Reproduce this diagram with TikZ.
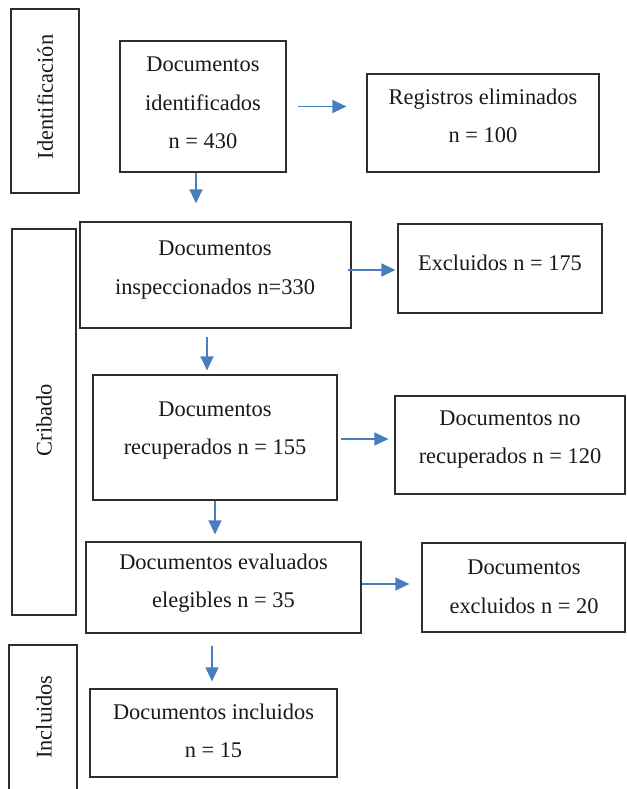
\documentclass[tikz,border=0pt]{standalone}
\usepackage{fontspec}
\setmainfont{Liberation Serif}
\usetikzlibrary{arrows.meta}
\definecolor{arrblue}{RGB}{72,126,190}
\definecolor{boxline}{RGB}{45,45,45}
\definecolor{txtcol}{RGB}{25,25,25}
\begin{document}
\begin{tikzpicture}[x=1pt,y=-1pt,
  boxn/.style={draw=boxline,line width=1.2pt,rectangle,inner sep=0pt},
  txt/.style={align=center,text=txtcol,inner sep=0pt,font=\fontsize{22.4}{38.5}\selectfont},
  side/.style={text=txtcol,inner sep=0pt,rotate=90,font=\fontsize{22.4}{26}\selectfont},
  arr/.style={draw=arrblue,line width=1.4pt,-{Triangle[length=14pt,width=13pt]}}]
\useasboundingbox (0,0) rectangle (626,789);
% side boxes
\node[boxn,minimum width=68pt,minimum height=184pt] (sid) at (45,101) {};
\node[side] (sidt) at (45,97) {Identificación};
\node[boxn,minimum width=64pt,minimum height=386pt] (scr) at (44,422) {};
\node[side] (scrt) at (44,420) {Cribado};
\draw[draw=boxline,line width=1.2pt] (9,800) -- (9,645) coordinate (incA) -- (77,645) coordinate (incB) -- (77,800);
\node[side] (sinc) at (44,717) {Incluidos};
% main boxes
\node[boxn,minimum width=166pt,minimum height=131pt] (b1) at (203,106.5) {};
\node[txt] (t1) at (203,103) {Documentos\\identificados\\n = 430};
\node[boxn,minimum width=232pt,minimum height=98pt] (reg) at (483,123) {};
\node[txt] (treg) at (483,116) {Registros eliminados\\n = 100};
\node[boxn,minimum width=271pt,minimum height=106pt] (b2) at (215.5,275) {};
\node[txt] (t2) at (215,270) {Documentos\\inspeccionados n=330};
\node[boxn,minimum width=204pt,minimum height=89pt] (exc) at (500,268.5) {};
\node[txt] (texc) at (500,263) {Excluidos n = 175};
\node[boxn,minimum width=244pt,minimum height=125pt] (b3) at (215,437.5) {};
\node[txt] (t3) at (215,430.5) {Documentos\\recuperados n = 155};
\node[boxn,minimum width=230pt,minimum height=98pt] (no) at (510,445) {};
\node[txt] (tno) at (510,439.5) {Documentos no\\recuperados n = 120};
\node[boxn,minimum width=275pt,minimum height=91pt] (b4) at (223.5,587.5) {};
\node[txt] (t4) at (223.5,583) {Documentos evaluados\\elegibles n = 35};
\node[boxn,minimum width=203pt,minimum height=89pt] (excl) at (523.5,587.5) {};
\node[txt] (texcl) at (524,587) {Documentos\\excluidos n = 20};
\node[boxn,minimum width=247pt,minimum height=88pt] (b5) at (213.5,733) {};
\node[txt] (t5) at (213.5,731) {Documentos incluidos\\n = 15};
% vertical arrows
\draw[arr,shorten >=18pt] ([xshift=-7pt]b1.south) -- ([xshift=-7pt]b1.south |- b2.north);
\draw[arr,shorten <=8pt,shorten >=4pt] ([xshift=-8.5pt]b2.south) -- ([xshift=-8.5pt]b2.south |- b3.north);
\draw[arr,shorten >=7pt] (b3.south) -- (b3.south |- b4.north);
\draw[arr,shorten <=12pt,shorten >=7pt] ([xshift=-11.5pt]b4.south) -- ([xshift=-11.5pt]b4.south |- b5.north);
% horizontal arrows
\draw[arr,shorten <=11pt,shorten >=20pt] (b1.east) -- (b1.east -| reg.west);
\draw[arr,shorten <=-4pt,shorten >=2pt] ([yshift=5pt]b2.east) -- ([yshift=5pt]b2.east -| exc.west);
\draw[arr,shorten <=3pt,shorten >=6pt] ([yshift=-1.5pt]b3.east) -- ([yshift=-1.5pt]b3.east -| no.west);
\draw[arr,shorten >=12pt] ([yshift=3.5pt]b4.east) -- ([yshift=3.5pt]b4.east -| excl.west);
\end{tikzpicture}
\end{document}
